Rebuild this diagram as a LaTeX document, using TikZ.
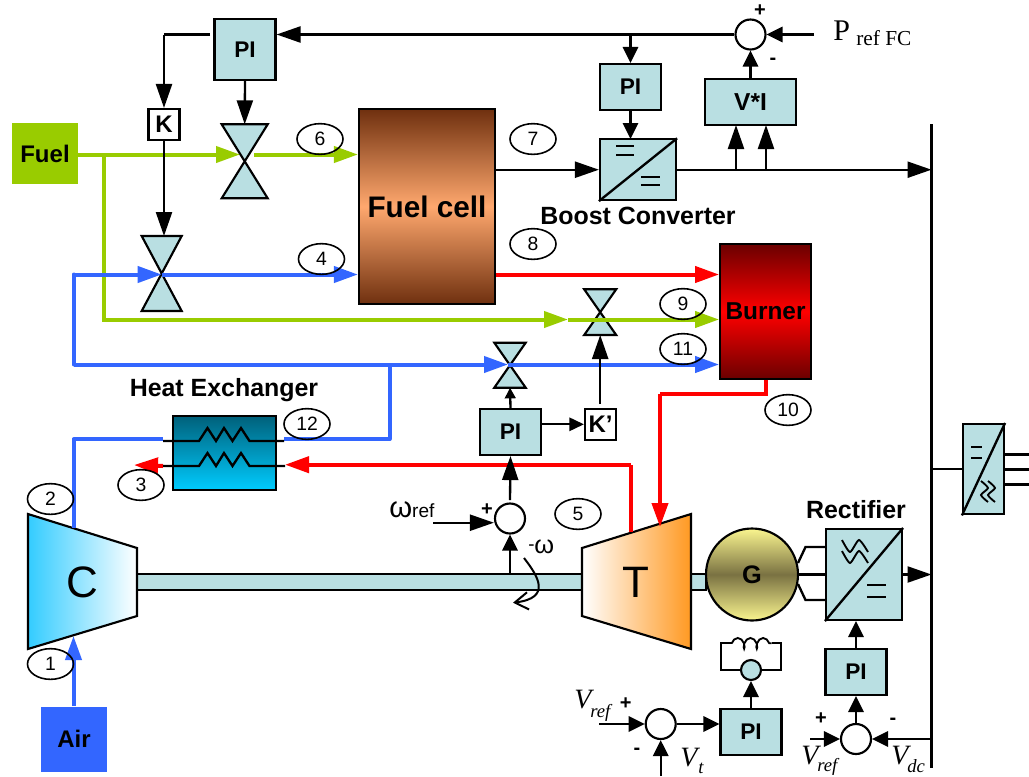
\documentclass[tikz,border=0pt]{standalone}
\usepackage{fontspec}
\setmainfont{Liberation Sans}
\newfontfamily\timesfont{Liberation Serif}
\usetikzlibrary{calc,arrows.meta,shapes.geometric,decorations.pathmorphing}
\definecolor{pifill}{HTML}{B9DFE2}
\definecolor{greenflow}{HTML}{99CC00}
\definecolor{blueflow}{HTML}{3366FF}
\definecolor{fcdark}{HTML}{6F300F}
\definecolor{fclight}{HTML}{FFA86E}
\definecolor{burndark}{HTML}{6B0000}
\definecolor{hxdark}{HTML}{00607A}
\definecolor{hxlight}{HTML}{00CCFF}
\definecolor{compblue}{HTML}{33CCFF}
\definecolor{turborange}{HTML}{FF9922}
\definecolor{gendark}{HTML}{7A7242}
\definecolor{genlight}{HTML}{FAF58F}
\newcommand{\fs}[1]{\fontsize{#1}{#1}\selectfont}
% name, x, half width, top, bottom
\newcommand{\valve}[5]{
  \draw[blockline,fill=pifill] (#2-#3,#4) -- (#2+#3,#4) -- (#2-#3,#5) -- (#2+#3,#5) -- cycle;
  \coordinate (#1top) at (#2,#4);
  \coordinate (#1bot) at (#2,#5);
}
\begin{document}
\begin{tikzpicture}[x=0.75pt,y=-0.75pt]
  \tikzstyle{blockline} = [line width=1.6pt];
  \tikzstyle{block} = [rectangle, draw=black, blockline, fill=pifill, inner sep=0pt, font=\fs{17}\bfseries];
  \tikzstyle{pibox} = [block, minimum width=45.75pt, minimum height=34.5pt];
  \tikzstyle{gain} = [block, fill=white, minimum width=23.25pt, minimum height=23.25pt, font=\fs{18}\bfseries];
  \tikzstyle{sumnode} = [circle, draw=black, blockline, fill=white, inner sep=0pt, minimum size=22.5pt];
  \tikzstyle{num} = [ellipse, draw=black, line width=1.2pt, inner sep=0pt, minimum width=34.5pt, minimum height=23pt, font=\fs{14.5}];
  \tikzstyle{title} = [inner sep=0pt, font=\fs{18.7}\bfseries];
  \tikzstyle{sgn} = [inner sep=0pt, font=\fs{15}\bfseries];
  \tikzstyle{sig} = [line width=1.75pt, -{Triangle[length=18pt,width=12pt]}];
  \tikzstyle{sumsig} = [line width=1.75pt, -{Triangle[length=12pt,width=11.5pt]}];
  \tikzstyle{wire} = [line width=1.75pt];
  \tikzstyle{flow} = [line width=3pt, -{Triangle[length=18pt,width=12pt]}];
  \tikzstyle{pipe} = [line width=3pt];
  \path[use as bounding box] (0,0) rectangle (1029,776);

  % shaft
  \draw[block] (137,574) rectangle (582,590);
  \draw[block] (690,574) rectangle (706,590);

  % machines
  \draw[blockline,left color=compblue,right color=white] (28,514) -- (137,548) -- (137,616) -- (28,649) -- cycle;
  \node[inner sep=0pt,font=\fs{33}] (comp) at (82,582) {C};
  \draw[blockline,left color=white,right color=turborange] (582,548) -- (691,514) -- (691,649) -- (582,616) -- cycle;
  \node[inner sep=0pt,font=\fs{33}] (turb) at (636,582) {T};
  \node[circle,draw=black,blockline,minimum size=69pt,inner sep=0pt,top color=genlight,bottom color=genlight,middle color=gendark,font=\fs{19}\bfseries] (gen) at (752,574.5) {G};

  % sources
  \node[fill=greenflow,minimum width=49.5pt,minimum height=46pt,inner sep=0pt,font=\fs{18}\bfseries] (fuel) at (45,153.5) {Fuel};
  \node[fill=blueflow,minimum width=49.5pt,minimum height=48.75pt,inner sep=0pt,font=\fs{18}\bfseries] (air) at (74,739) {Air};

  % stacks
  \node[draw=black,blockline,minimum width=102pt,minimum height=146pt,inner sep=0pt,top color=fcdark,bottom color=fcdark,middle color=fclight,font=\fs{22.3}\bfseries] (fc) at (427,206.5) {Fuel cell};
  \node[draw=black,blockline,minimum width=68pt,minimum height=101pt,inner sep=0pt,top color=burndark,bottom color=burndark,middle color=red,font=\fs{18.3}\bfseries] (burner) at (765.5,311.5) {Burner};
  \node[draw=black,blockline,minimum width=77pt,minimum height=56pt,inner sep=0pt,top color=hxdark,bottom color=hxlight] (hx) at (224.5,453) {};

  % valves
  \valve{vfuel}{244.7}{23}{124.3}{198.3}
  \valve{vair}{161.7}{20}{236}{311}
  \valve{vburn}{600.2}{16}{289.3}{335}
  \valve{vbair}{510}{15.7}{342.7}{387.7}

  % controllers
  \node[pibox,minimum height=46pt] (pitop) at (245,49.5) {PI};
  \node[pibox] (piboost) at (630.5,87) {PI};
  \node[pibox,minimum width=68.25pt,font=\fs{18.4}\bfseries] (vi) at (750.5,102) {V*I};
  \node[pibox] (pishaft) at (510.5,432) {PI};
  \node[pibox] (pirect) at (856,672) {PI};
  \node[pibox] (pifield) at (751,732) {PI};
  \node[gain] (k) at (164,124.5) {K};
  \node[gain] (kp) at (600.5,424.3) {K'};
  \node[sumnode] (sumtop) at (750.5,34.5) {};
  \node[sumnode] (sumshaft) at (510,518.5) {};
  \node[sumnode] (sumfield) at (660.7,724) {};
  \node[sumnode] (sumrect) at (856,739) {};
  \node[block,minimum width=57pt,minimum height=45.5pt] (boost) at (638,169.7) {};
  \node[block,minimum width=57pt,minimum height=68.25pt] (rect) at (864,574.5) {};
  \node[block,minimum width=30.75pt,minimum height=67.75pt] (inv) at (983.5,469.2) {};
  \node[circle,draw=black,blockline,fill=pifill,minimum size=15pt,inner sep=0pt] (field) at (751,670) {};

  % converter marks
  \draw[wire] (boost.south west) -- (boost.north east);
  \draw[wire] (rect.south west) -- (rect.north east);
  \draw[wire] (inv.south west) -- (inv.north east);
  \draw[line width=1.5pt] (616,146) -- (634,146) (616,155) -- (634,155) (641,177) -- (660,177) (641,185) -- (660,185);
  \draw[line width=1.5pt] (867,585) -- (886,585) (867,597) -- (886,597);
  \draw[line width=1.5pt] (971,447) -- (982,447) (971,458) -- (982,458);
  \foreach \yy in {0,11} {
    \draw[line width=1.4pt] plot[smooth,tension=0.4] coordinates {(842,{540+\yy}) (850,{552+\yy}) (859,{540+\yy}) (868,{552+\yy})};
  }
  \foreach \xx in {0,7} {
    \draw[line width=1.4pt] plot[smooth,tension=0.4] coordinates {({981+\xx},481) ({988+\xx},488) ({981+\xx},495) ({988+\xx},502)};
  }

  % heat exchanger coils
  \coordinate (hxa) at (163,441);
  \coordinate (hxb) at (284,441);
  \coordinate (hxc) at (163,466);
  \coordinate (hxd) at (285,466);
  \coordinate (hxleft) at (134,465);
  \draw[flow,red] (hxc) -- (hxleft);

  % fuel lines
  \coordinate (fuelin) at (240,154.5);
  \coordinate (fuelout) at (254,154.5);
  \coordinate (fuelbr) at (104,154.5);
  \coordinate (fuelrow) at (104,319.5);
  \coordinate (burntip) at (568,319.5);
  \draw[flow,greenflow] (fuel.east |- fuelin) -- (fuelin);
  \draw[flow,greenflow] (fuelout) -- (fc.west |- fuelout);
  \draw[flow,greenflow] (fuelbr) -- (fuelrow) -- (burntip);
  \draw[flow,greenflow] (burntip) -- (burner.west |- burntip);

  % air lines
  \coordinate (airtip) at (73.5,636);
  \coordinate (compout) at (73.5,528);
  \coordinate (airtop) at (73.5,439.3);
  \coordinate (airl1) at (73.5,274.5);
  \coordinate (airl2) at (73.5,364.5);
  \coordinate (airv) at (161.7,274.5);
  \coordinate (airw) at (508,364.5);
  \coordinate (airbr) at (389.5,364.5);
  \coordinate (airbr2) at (389.5,439.3);
  \draw[flow,blueflow] (air.north -| airtip) -- (airtip);
  \draw[pipe,blueflow,line join=round] (compout) -- (airtop) -- (hxa |- airtop);
  \draw[pipe,blueflow,line join=round] (hxb |- airtop) -- (airbr2) -- (airbr);
  \draw[flow,blueflow] (airl1 -| airl2) -- (airv);
  \draw[flow,blueflow] (airv) -- (fc.west |- airv);
  \draw[pipe,blueflow,line cap=round] (airl1) -- (airl2);
  \draw[flow,blueflow] (airl2) -- (airw);
  \draw[flow,blueflow] (airw) -- (burner.west |- airw);

  % hot lines
  \coordinate (hotout) at (495,274.5);
  \coordinate (burnb) at (765.7,394);
  \coordinate (turbc) at (660,394);
  \coordinate (turbtip) at (660,527);
  \coordinate (turbo) at (630.5,532);
  \coordinate (turbu) at (630.5,464.7);
  \coordinate (hxtip) at (285,464.7);
  \draw[flow,red] (fc.east |- hotout) -- (burner.west |- hotout);
  \draw[pipe,red] (burner.south -| burnb) -- (burnb) -- (turbc);
  \draw[flow,red] (turbc) -- (turbtip);
  \draw[pipe,red] (turbo) -- (turbu);
  \draw[flow,red] (turbu) -- (hxtip);

  \draw[wire] (hxa) -- (199,441) -- (207.5,428) -- (216,441) -- (224,428) -- (232.5,441) -- (241,428) -- (249.5,441) -- (hxb);
  \draw[wire] (hxc) -- (199,466) -- (207.5,453) -- (216,466) -- (224,453) -- (232.5,466) -- (241,453) -- (249.5,466) -- (hxd);

  % bus
  \coordinate (bustop) at (931.5,124);
  \coordinate (busbot) at (931.5,768);
  \draw[wire] (bustop) -- (busbot);
  \draw[wire] (inv.west) -- (bustop |- inv);
  \draw[line width=2.2pt] ($(inv.east)+(0,-15)$) -- +(25,0);
  \draw[line width=2.2pt] (inv.east) -- +(25,0);
  \draw[line width=2.2pt] ($(inv.east)+(0,15)$) -- +(25,0);

  % fuel cell power loop
  \coordinate (fcout) at (495,169.7);
  \draw[sig] (fc.east |- fcout) -- (boost.west);
  \draw[sig] (boost.east) -- (bustop |- boost);
  \draw[sig] (736,169.7) -- (736,125);
  \draw[sig] (766,169.7) -- (766,125);
  \draw[sumsig] (vi.north) -- (sumtop.south);
  \coordinate (prefin) at (814,34.5);
  \draw[sumsig] (prefin) -- (sumtop.east);
  \draw[sig] (sumtop.west) -- (pitop.east |- sumtop);
  \draw[sumsig] (630.5,34.5) -- (piboost.north);
  \draw[sumsig] (piboost.south) -- (630.5,139);
  \draw[sig] (pitop.south) -- (vfueltop);
  \coordinate (pitopl) at (210,34.5);
  \draw[wire] (pitopl) -- (k |- pitopl);
  \draw[sig] (k |- pitopl) -- (k.north);
  \draw[sig] (k.south) -- (k.south |- vairtop);

  % shaft speed loop
  \coordinate (wrefin) at (433.3,522.7);
  \draw[sig] (wrefin) -- (sumshaft.west |- wrefin);
  \draw[sumsig] (510,574) -- (sumshaft.south);
  \draw[sig] (510,500) -- (pishaft.south);
  \draw[line width=1.75pt,-{Triangle[length=8pt,width=8pt]}] (pishaft.north) -- (vbairbot);
  \draw[line width=1.75pt,-{Triangle[length=11pt,width=10pt]}] (pishaft.east |- kp) -- (kp.west);
  \coordinate (kpup) at (600.2,403.7);
  \draw[sig] (kpup) -- (vburnbot);
  \draw[line width=1.5pt,-{Straight Barb[length=10pt,width=13pt]}] (524,558) .. controls (538,576) and (552,598) .. (513,602.7);

  % rectifier
  \draw[wire] (gen.east) -- (rect.west);
  \draw[wire] (798,563) -- (805.5,547) -- (rect.west |- 0,547);
  \draw[wire] (798,584) -- (805.5,600) -- (rect.west |- 0,600);
  \draw[sig] (rect.east) -- (bustop |- rect);
  \draw[sumsig] (pirect.north) -- (pirect.north |- rect.south);
  \draw[sumsig] (sumrect.north) -- (pirect.south);
  \coordinate (vrefr) at (810,739);
  \draw[sumsig] (vrefr) -- (sumrect.west);
  \draw[sumsig] (busbot |- sumrect) -- (sumrect.east);

  % field
  \coordinate (vreff) at (599,724);
  \coordinate (vtin) at (660.7,776);
  \draw[sumsig] (vreff) -- (sumfield.west);
  \draw[sumsig] (sumfield.east) -- (pifield.west |- sumfield);
  \draw[sumsig] (vtin) -- (sumfield.south);
  \draw[sumsig] (pifield.north) -- (field.south);
  \draw[wire] (field.west) -- (720.7,670) -- (720.7,643.3) -- (731.7,643.3);
  \draw[wire] (field.east) -- (781,670) -- (781,643.3) -- (771.7,643.3);
  \draw[line width=1.4pt,decorate,decoration={coil,aspect=0.55,segment length=9.5pt,amplitude=4pt}] (731.7,643.3) -- (771.7,643.3);

  % numbers
  \node[num] (n1) at (50.5,664) {1};
  \node[num] (n2) at (50.5,499) {2};
  \node[num] (n3) at (141,485) {3};
  \node[num] (n4) at (321.5,259) {4};
  \node[num] (n5) at (578,514) {5};
  \node[num] (n6) at (320,139) {6};
  \node[num] (n7) at (533,139) {7};
  \node[num] (n8) at (533,244) {8};
  \node[num] (n9) at (683,304) {9};
  \node[num] (n10) at (788,410) {10};
  \node[num] (n11) at (683,349) {11};
  \node[num] (n12) at (307,424) {12};

  % labels
  \node[title] (boostlabel) at (638,216) {Boost Converter};
  \node[title] (hxlabel) at (224,390) {Heat Exchanger};
  \node[title] (rectlabel) at (856,509.5) {Rectifier};
  \node[sgn] (ptplus) at (760,11) {+};
  \node[sgn] (ptminus) at (773,61) {-};
  \node[sgn] (wplus) at (487,510) {+};
  \node[sgn] (fplus) at (625.7,704) {+};
  \node[sgn] (fminus) at (637,751) {-};
  \node[sgn] (rplus) at (821,719) {+};
  \node[sgn] (rminus) at (893,721) {-};
  \node[anchor=base west,inner sep=0pt,font=\timesfont\fs{22.5}] (pref) at (833,40.5) {P};
  \node[anchor=base west,inner sep=0pt,font=\timesfont\fs{16}] (preflabel) at (856,45) {ref FC};
  \node[anchor=base west,inner sep=0pt,font=\fs{22}] (wreflabel) at (389,517.7) {ω\fs{14.3}ref};
  \node[anchor=base west,inner sep=0pt,font=\fs{19}] (wlabel) at (528,553) {\raisebox{2pt}{\fs{14}-}ω};
  \node[anchor=base west,inner sep=0pt,font=\timesfont\itshape\fs{21}] (vreff1) at (574,708) {V};
  \node[anchor=base west,inner sep=0pt,font=\timesfont\itshape\fs{14}] (vreff2) at (590,717) {ref};
  \node[anchor=base west,inner sep=0pt,font=\timesfont\itshape\fs{21}] (vt1) at (680,766) {V};
  \node[anchor=base west,inner sep=0pt,font=\timesfont\itshape\fs{14}] (vt2) at (698,773) {t};
  \node[anchor=base west,inner sep=0pt,font=\timesfont\itshape\fs{21}] (vrefr1) at (801,764) {V};
  \node[anchor=base west,inner sep=0pt,font=\timesfont\itshape\fs{14}] (vrefr2) at (817,771) {ref};
  \node[anchor=base west,inner sep=0pt,font=\timesfont\itshape\fs{21}] (vdc1) at (891,764) {V};
  \node[anchor=base west,inner sep=0pt,font=\timesfont\itshape\fs{14}] (vdc2) at (907,772) {dc};
\end{tikzpicture}
\end{document}
